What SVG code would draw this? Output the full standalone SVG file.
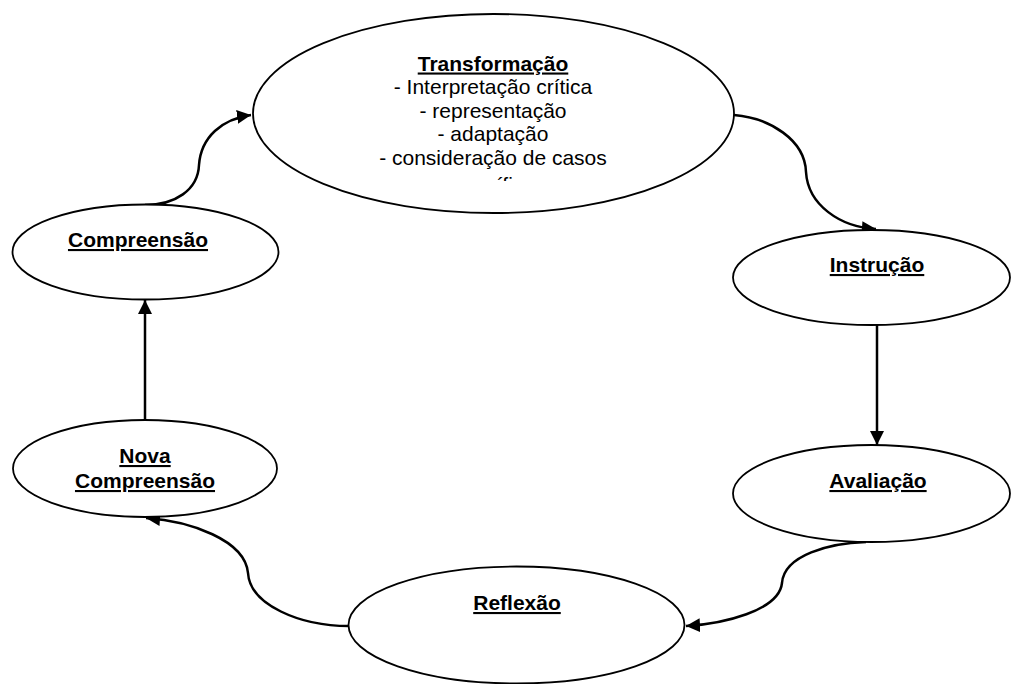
<svg xmlns="http://www.w3.org/2000/svg" width="1011" height="684" viewBox="0 0 1011 684">
<style>
.node{fill:#fff;stroke:#000;stroke-width:1.8}
.conn{fill:none;stroke:#000;stroke-width:2.5}
text{font-family:"Liberation Sans",Arial,sans-serif;font-size:21px;fill:#000;text-anchor:middle}
.t{font-weight:bold;text-decoration:underline}
</style>
<defs>
<marker id="ah" markerUnits="userSpaceOnUse" markerWidth="15" markerHeight="15" refX="14" refY="7" orient="auto">
<path d="M0,0 L14,7 L0,14 Z" fill="#000"/>
</marker>
<clipPath id="clipT"><rect x="253" y="40" width="482" height="141"/></clipPath>
</defs>
<rect width="1011" height="684" fill="#fff"/>
<g id="connectors">
<path class="conn" d="M145,205 C175,205 198,190 199,165 C201,137 222,119 251,115" marker-end="url(#ah)"/>
<path class="conn" d="M734,115 C770,118 805,140 806,172 C808,205 840,227 876,229" marker-end="url(#ah)"/>
<line class="conn" x1="877" y1="325" x2="877" y2="445" marker-end="url(#ah)"/>
<path class="conn" d="M866,542 C830,543 784,555 782,583 C779,611 722,624 686,626" marker-end="url(#ah)"/>
<path class="conn" d="M349,626 C300,626 250,605 248,573 C245,540 190,521 146,518" marker-end="url(#ah)"/>
<line class="conn" x1="145" y1="420" x2="145" y2="300" marker-end="url(#ah)"/>
</g>
<g id="transformacao">
<ellipse class="node" cx="493.5" cy="113.5" rx="240.5" ry="99.5"/>
<g clip-path="url(#clipT)">
<text class="t" x="493" y="70.5">Transformação</text>
<text x="493" y="94">- Interpretação crítica</text>
<text x="493" y="117.5">- representação</text>
<text x="493" y="141">- adaptação</text>
<text x="493" y="164.5">- consideração de casos</text>
<text x="493" y="192">específicos</text>
</g>
</g>
<g id="instrucao">
<ellipse class="node" cx="871.5" cy="277.5" rx="138.5" ry="47.5"/>
<text class="t" x="877" y="272">Instrução</text>
</g>
<g id="avaliacao">
<ellipse class="node" cx="871.5" cy="493.5" rx="138.5" ry="48.5"/>
<text class="t" x="878" y="488">Avaliação</text>
</g>
<g id="reflexao">
<ellipse class="node" cx="516.5" cy="625" rx="168" ry="58.5"/>
<text class="t" x="517" y="610">Reflexão</text>
</g>
<g id="nova-compreensao">
<ellipse class="node" cx="145" cy="468.5" rx="132" ry="48.5"/>
<text class="t" x="145" y="463">Nova</text>
<text class="t" x="145" y="488">Compreensão</text>
</g>
<g id="compreensao">
<ellipse class="node" cx="145.5" cy="252" rx="133" ry="47.5"/>
<text class="t" x="138" y="247">Compreensão</text>
</g>
</svg>
